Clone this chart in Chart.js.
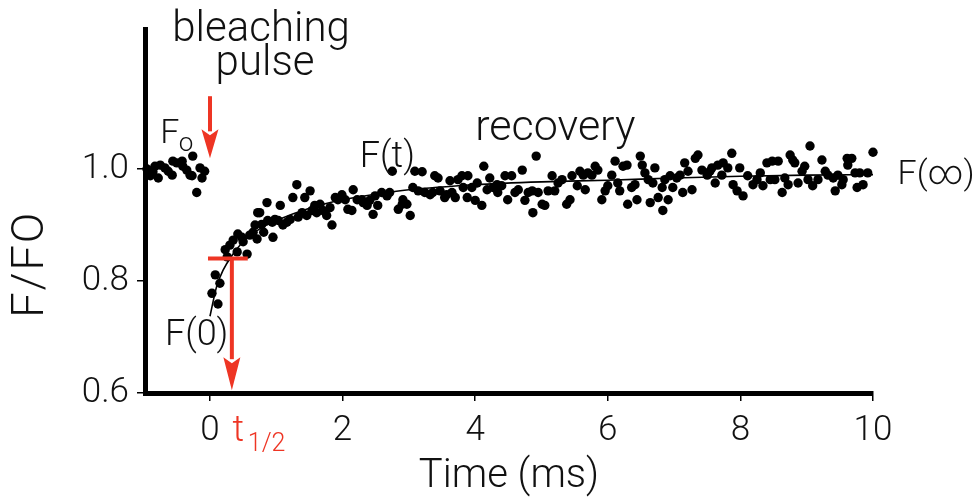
<!DOCTYPE html>
<html>
<head>
<meta charset="utf-8">
<title>FRAP recovery</title>
<script src="https://cdn.jsdelivr.net/npm/chart.js@4.4.1/dist/chart.umd.min.js"></script>
<style>
  html, body { margin: 0; padding: 0; background: #fff; }
  #wrap { position: relative; width: 974px; height: 501px; }
</style>
</head>
<body>
<div id="wrap"><canvas id="frapChart"></canvas></div>
<script>
// Samples: time (ms) and normalised fluorescence F/F0
const sampleTime = [
  -0.95, -0.90, -0.86, -0.83, -0.78, -0.75, -0.68, -0.63, -0.57, -0.56, -0.50, -0.42, -0.41, -0.35, -0.30, -0.27, -0.26, -0.20, -0.15, -0.12, -0.08,
  0.03, 0.08, 0.12, 0.15, 0.23, 0.26, 0.30, 0.35, 0.41, 0.42, 0.48, 0.50, 0.56, 0.60, 0.65, 0.68, 0.72,
  0.71, 0.75, 0.78, 0.81, 0.86, 0.87, 0.94, 0.95, 0.98, 1.03, 1.06, 1.10, 1.16, 1.21, 1.25, 1.31, 1.33, 1.39, 1.43, 1.46,
  1.51, 1.54, 1.58, 1.61, 1.66, 1.70, 1.76, 1.81, 1.84, 1.89, 1.93, 1.99, 2.04, 2.08, 2.14, 2.16, 2.22, 2.29, 2.31, 2.37,
  2.41, 2.46, 2.49, 2.53, 2.59, 2.67, 2.71, 2.75, 2.84, 2.90,
  2.91, 2.97, 3.02, 3.06, 3.09, 3.14, 3.20, 3.24, 3.32, 3.36, 3.39, 3.44, 3.47, 3.54, 3.57, 3.62, 3.65, 3.70, 3.74, 3.80,
  3.82, 3.88, 3.89, 3.95, 4.00, 4.03, 4.10, 4.13, 4.18, 4.22, 4.27, 4.33, 4.34, 4.40, 4.45, 4.49, 4.55, 4.60, 4.65, 4.71,
  4.75, 4.80, 4.86, 4.87, 4.92, 4.95, 5.01, 5.05, 5.10, 5.16, 5.20, 5.25,
  5.31, 5.38, 5.43, 5.46, 5.54, 5.58, 5.63, 5.66, 5.70, 5.76, 5.81, 5.85, 5.91, 5.96, 6.00, 6.06, 6.11, 6.15, 6.18, 6.23,
  6.29, 6.30, 6.36, 6.41, 6.44, 6.49, 6.52, 6.56, 6.61, 6.64, 6.68, 6.71, 6.76, 6.82, 6.83, 6.86, 6.91, 6.94, 6.98, 7.04,
  7.09, 7.13, 7.16, 7.21, 7.27, 7.32, 7.36, 7.42, 7.50, 7.54,
  7.57, 7.62, 7.66, 7.72, 7.74, 7.81, 7.87, 7.89, 7.95, 7.99, 8.04, 8.11, 8.19, 8.25, 8.30, 8.34, 8.40, 8.45, 8.48, 8.52,
  8.57, 8.63, 8.67, 8.72, 8.75, 8.79, 8.82, 8.87, 8.93, 8.97, 9.02, 9.05, 9.09, 9.17, 9.23, 9.28, 9.32, 9.40, 9.43, 9.47,
  9.53, 9.55, 9.61, 9.62, 9.68, 9.73, 9.76, 9.80, 9.85, 9.92, 10.0
];
const sampleRatio = [
  1.000, 0.988, 0.995, 1.005, 0.984, 1.007, 1.002, 0.996, 0.989, 1.014, 1.011, 1.014, 1.005, 0.998, 0.989, 0.988, 1.023, 0.958, 1.002, 0.984, 0.996,
  0.778, 0.811, 0.759, 0.796, 0.856, 0.843, 0.864, 0.873, 0.852, 0.884, 0.878, 0.870, 0.848, 0.882, 0.887, 0.900, 0.922,
  0.875, 0.922, 0.901, 0.887, 0.940, 0.908, 0.905, 0.878, 0.910, 0.908, 0.935, 0.900, 0.905, 0.910, 0.949, 0.972, 0.914, 0.922, 0.949, 0.917,
  0.961, 0.926, 0.935, 0.922, 0.937, 0.926, 0.917, 0.931, 0.900, 0.949, 0.945, 0.954, 0.945, 0.928, 0.926, 0.963, 0.945, 0.945, 0.940, 0.935,
  0.944, 0.919, 0.952, 0.935, 0.958, 0.952, 0.958, 0.996, 0.928, 0.937,
  0.945, 0.937, 0.917, 0.967, 0.996, 0.961, 0.995, 0.958, 0.954, 0.958, 0.988, 0.984, 0.961, 0.949, 0.954, 0.979, 0.958, 0.949, 0.981, 0.988,
  0.967, 0.949, 0.988, 0.967, 0.944, 0.975, 0.935, 1.005, 0.963, 0.984, 0.967, 0.972, 0.958, 0.970, 0.988, 0.945, 0.988, 0.958, 0.963, 0.998,
  0.944, 0.958, 0.961, 0.922, 1.023, 0.958, 0.937, 0.935, 0.961, 0.988, 0.961, 0.975,
  0.981, 0.937, 0.945, 0.988, 0.970, 0.996, 0.989, 0.963, 0.993, 0.989, 1.005, 0.998, 0.945, 0.961, 0.970, 0.989, 1.014, 0.975, 0.961, 1.005,
  1.007, 0.937, 0.967, 0.972, 0.945, 1.023, 1.007, 0.993, 0.981, 0.940, 0.975, 1.002, 0.949, 0.967, 0.926, 0.981, 0.945, 0.988, 0.967, 0.984,
  0.989, 0.958, 1.011, 0.996, 0.963, 1.019, 1.025, 0.998, 0.989, 0.996,
  1.002, 0.975, 1.007, 0.989, 1.011, 1.002, 1.028, 0.972, 0.961, 1.002, 0.952, 0.988, 0.972, 0.981, 0.993, 0.970, 1.011, 0.981, 1.014, 0.981,
  1.014, 0.958, 0.984, 0.972, 1.025, 1.016, 1.011, 0.975, 0.996, 1.005, 0.981, 1.041, 0.970, 0.981, 1.016, 0.996, 0.989, 0.984, 0.961, 0.989,
  0.972, 0.981, 1.019, 1.007, 1.019, 0.993, 0.967, 0.993, 0.972, 0.993, 1.030
];

// Fitted recovery curve
const fitTime  = [0, 0.1, 0.2, 0.33, 0.5, 0.75, 1, 1.5, 2, 2.5, 3, 4, 5, 6, 7, 8, 9, 10];
const fitRatio = [0.737, 0.79, 0.82, 0.845, 0.87, 0.893, 0.908, 0.93, 0.945, 0.955, 0.963, 0.972, 0.977, 0.98, 0.984, 0.987, 0.989, 0.99];

const xTicks = [0, 2, 4, 6, 8, 10];
const yTicks = [0.6, 0.8, 1.0];

const FONT = 'Roboto';
const RED = '#ee3524';
const INK = '#111';

function drawArrow(ctx, x, yFrom, yTo, headLen, headHalf) {
    ctx.beginPath();
    ctx.moveTo(x, yFrom);
    ctx.lineTo(x, yTo - headLen + 2);
    ctx.stroke();
    ctx.beginPath();
    ctx.moveTo(x - headHalf, yTo - headLen);
    ctx.lineTo(x, yTo - headLen + 6);
    ctx.lineTo(x + headHalf, yTo - headLen);
    ctx.lineTo(x, yTo);
    ctx.closePath();
    ctx.fill();
}

// Labels, arrows and the t1/2 marker drawn on top of the data
const figureNotes = {
    id: 'figureNotes',
    afterDatasetsDraw(chart) {
        const { ctx, scales: { x, y } } = chart;
        const px = v => x.getPixelForValue(v);
        const py = v => y.getPixelForValue(v);

        ctx.save();
        ctx.strokeStyle = RED;
        ctx.fillStyle = RED;
        ctx.lineWidth = 4;
        drawArrow(ctx, px(0), py(1.13), py(1.019), 29, 8.5);

        ctx.beginPath();
        ctx.moveTo(px(-0.03), py(0.84));
        ctx.lineTo(px(0.57), py(0.84));
        ctx.stroke();
        drawArrow(ctx, px(0.33), py(0.84), py(0.605), 33, 8.5);

        const text = (str, xv, yv, size, align, color) => {
            ctx.font = `300 ${size}px ${FONT}`;
            ctx.textAlign = align;
            ctx.textBaseline = 'alphabetic';
            ctx.fillStyle = color;
            ctx.fillText(str, px(xv), py(yv));
        };
        text('bleaching', 0.77, 1.229, 42, 'center', INK);
        text('pulse', 0.83, 1.168, 42, 'center', INK);
        text('F', -0.75, 1.046, 34, 'left', INK);
        text('o', -0.47, 1.032, 26, 'left', INK);
        text('F(t)', 2.26, 1.004, 36, 'left', INK);
        text('recovery', 4.0, 1.051, 43, 'left', INK);
        text('F(\u221E)', 10.37, 0.974, 34, 'left', INK);
        text('F(0)', -0.68, 0.685, 36, 'left', INK);
        text('t', 0.34, 0.514, 36, 'left', RED);
        text('1/2', 0.57, 0.496, 25, 'left', RED);

        // y axis title
        ctx.translate(y.left + 32, py(0.83));
        ctx.rotate(-Math.PI / 2);
        ctx.font = `300 45px ${FONT}`;
        ctx.letterSpacing = '2px';
        ctx.textAlign = 'center';
        ctx.textBaseline = 'middle';
        ctx.fillStyle = INK;
        ctx.fillText('F/FO', 0, 0);
        ctx.restore();
    }
};

const axisLine = { display: true, width: 5, color: '#000' };
const tickMarks = { drawOnChartArea: false, drawTicks: true, tickLength: 8, color: '#000', lineWidth: 1.5 };

new Chart(document.getElementById('frapChart'), {
    type: 'scatter',
    data: {
        datasets: [{
            label: 'F/F0',
            data: sampleTime.map((t, i) => ({ x: t, y: sampleRatio[i] })),
            pointRadius: 4.7,
            pointBackgroundColor: '#000',
            pointBorderWidth: 0,
            clip: false
        }, {
            label: 'fit',
            data: fitTime.map((t, i) => ({ x: t, y: fitRatio[i] })),
            showLine: true,
            pointRadius: 0,
            borderColor: '#000',
            borderWidth: 1.6,
            cubicInterpolationMode: 'monotone',
            clip: false
        }]
    },
    options: {
        responsive: true,
        maintainAspectRatio: false,
        animation: false,
        layout: { padding: { left: 0, right: 101, top: 25, bottom: 0 } },
        plugins: {
            legend: { display: false },
            tooltip: { enabled: false }
        },
        scales: {
            x: {
                type: 'linear',
                min: -0.98,
                max: 10,
                afterBuildTicks: axis => { axis.ticks = xTicks.map(v => ({ value: v })); },
                afterFit: axis => { axis.height = 108; },
                border: axisLine,
                grid: tickMarks,
                ticks: {
                    color: INK,
                    maxRotation: 0,
                    padding: 9,
                    font: { family: FONT, size: 35, weight: '300' }
                },
                title: {
                    display: true,
                    text: 'Time (ms)',
                    color: INK,
                    font: { family: FONT, size: 40, weight: '300' },
                    padding: { top: 0, bottom: 0 }
                }
            },
            y: {
                min: 0.6,
                max: 1.25,
                afterBuildTicks: axis => { axis.ticks = yTicks.map(v => ({ value: v })); },
                afterFit: axis => { axis.width = 145; },
                border: axisLine,
                grid: tickMarks,
                ticks: {
                    color: INK,
                    padding: 8,
                    font: { family: FONT, size: 35, weight: '300' },
                    callback: v => v.toFixed(1)
                }
            }
        }
    },
    plugins: [figureNotes]
});
</script>
</body>
</html>
